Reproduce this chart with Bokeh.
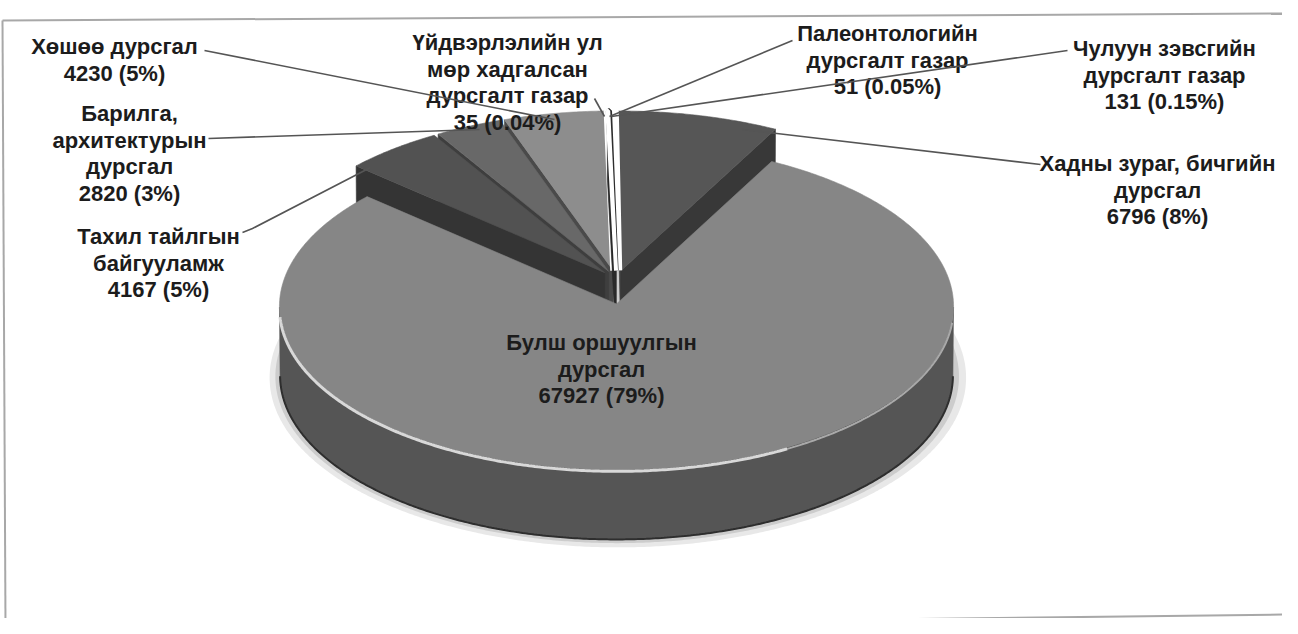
import numpy as np
from bokeh.plotting import figure
from bokeh.models import Range1d, ColumnDataSource
from bokeh.embed import file_html
from bokeh.resources import INLINE
from bokeh.core.properties import value

# ---------------- data ----------------
categories = [
    "Үйдвэрлэлийн ул мөр хадгалсан дурсгалт газар",
    "Палеонтологийн дурсгалт газар",
    "Чулуун зэвсгийн дурсгалт газар",
    "Хадны зураг, бичгийн дурсгал",
    "Булш оршуулгын дурсгал",
    "Тахил тайлгын байгууламж",
    "Барилга, архитектурын дурсгал",
    "Хөшөө дурсгал",
]
counts = [35, 51, 131, 6796, 67927, 4167, 2820, 4230]
percent_text = ["0.04%", "0.05%", "0.15%", "8%", "79%", "5%", "3%", "5%"]
label_lines = [
    ["Үйдвэрлэлийн ул", "мөр хадгалсан", "дурсгалт газар"],
    ["Палеонтологийн", "дурсгалт газар"],
    ["Чулуун зэвсгийн", "дурсгалт газар"],
    ["Хадны зураг, бичгийн", "дурсгал"],
    ["Булш оршуулгын", "дурсгал"],
    ["Тахил тайлгын", "байгууламж"],
    ["Барилга,", "архитектурын", "дурсгал"],
    ["Хөшөө дурсгал"],
]

# ---------------- layout / style ----------------
CX, CY = 624.0, 287.0          # screen position of pie centre
K, D = 19755.0, 58.75          # perspective scale / camera distance (pie radius = 1)
COS_T, SIN_T = 0.8756, 0.4830  # camera elevation
HEIGHT = 0.235                 # pie thickness
START_DEG = -1.5
BIG_EXPLODE = 0.15
SMALL_EXPLODE = 0.055
top_colors = ["#ffffff", "#2e2e2e", "#ffffff", "#565656", "#868686", "#525252", "#686868", "#8d8d8d"]
wall_colors = ["#2a2a2a", "#262626", "#bdbdbd", "#383838", "#555555", "#343434", "#3e3e3e", "#4a4a4a"]
edge_width = [4.0, 5.0, 12.0, 0.6, 0.6, 0.6, 0.6, 0.6]
draw_rank = [3, 2, 1, 0, 9, 0, 0, 0]   # thin slices painted over their neighbours

label_anchor = [(515, 44), (895, 35), (1172, 50), (1165, 165), (609, 344), (166, 238), (137, 115), (122, 48)]
LINE_STEP = 26.5
TEXT_DY = 6
leader_pts = {
    0: [(602, 106), (612, 124)],
    1: [(800, 48), (617, 124)],
    2: [(1075, 58), (619, 124)],
    3: [(1048, 172), (750, 137)],
    5: [(250, 240), (260, 236), (378, 175)],
    6: [(216, 146), (487, 137)],
    7: [(212, 58), (562, 127)],
}
BIG = int(np.argmax(counts))

p = figure(width=1282, height=618, x_range=Range1d(8, 1290), y_range=Range1d(626, 8),
           output_backend="svg", toolbar_location=None, min_border=0)
p.axis.visible = False
p.grid.visible = False
p.outline_line_color = None
p.background_fill_color = "white"

# frame (scanned border)
p.line([10, 1294], [28, 21], line_color="#a8a8a8", line_width=2)
p.line([10, 13], [28, 634], line_color="#a8a8a8", line_width=2)
p.line([1294, 1296], [21, 553], line_color="#a8a8a8", line_width=2)
p.line([470, 1298], [632, 622], line_color="#a8a8a8", line_width=2)

# ---------------- pie geometry (3-D perspective) ----------------
vals = np.array(counts, dtype=float)
spans = vals / vals.sum() * 360.0
a_start = START_DEG + np.concatenate([[0], np.cumsum(spans)[:-1]])
a_end = a_start + spans
mids = (a_start + a_end) / 2


def proj(X, W, H):
    depth = D + W * COS_T - H * SIN_T
    return CX + K * X / depth, CY - K * (H * COS_T + W * SIN_T) / depth


def offset(i):
    if i == BIG:
        return 0.0, -BIG_EXPLODE
    m = np.radians(mids[i])
    return SMALL_EXPLODE * np.sin(m), SMALL_EXPLODE * np.cos(m)


def rim(a0, a1, ox, ow, H=0.0, r=1.0):
    n = max(2, int(abs(a1 - a0) / 0.5) + 2)
    t = np.radians(np.linspace(a0, a1, n))
    return proj(r * np.sin(t) + ox, r * np.cos(t) + ow, H)


xs, ys, fills, lws = [], [], [], []


def add(px, py, color, lw):
    xs.append(list(px)); ys.append(list(py)); fills.append(color); lws.append(lw)


VIS = np.degrees(np.arccos(-1.0 / (D * COS_T)))
order = sorted(range(len(counts)), key=lambda i: (draw_rank[i], -np.cos(np.radians(mids[i]))))
for i in order:
    ox, ow = offset(i)
    a0, a1 = a_start[i], a_end[i]
    ax, ay = proj(ox, ow, 0.0)
    bx_, by_ = proj(ox, ow, -HEIGHT)
    for ang, vis in ((a0, np.sin(np.radians(a0)) < 0), (a1, np.sin(np.radians(a1)) > 0)):
        if vis and i != BIG:
            tx, ty = rim(ang, ang, ox, ow)
            ux, uy = rim(ang, ang, ox, ow, -HEIGHT)
            add([ax, tx[0], ux[0], bx_], [ay, ty[0], uy[0], by_], wall_colors[i], 0.6)
    b0 = a0 % 360
    b1 = b0 + spans[i]
    for lo, hi in ((VIS, 360 - VIS), (360 + VIS, 720 - VIS)):
        s, e = max(b0, lo), min(b1, hi)
        if e > s:
            tx, ty = rim(s, e, ox, ow)
            ux, uy = rim(e, s, ox, ow, -HEIGHT)
            add(np.concatenate([tx, ux]), np.concatenate([ty, uy]), wall_colors[i], 0.6)
    tx, ty = rim(a0, a1, ox, ow)
    add(np.concatenate([[ax], tx]), np.concatenate([[ay], ty]), top_colors[i], edge_width[i])

# soft shadow under the pie
bo, bw = offset(BIG)
sx, sy = rim(0, 360, bo + 0.004, bw - 0.012, -HEIGHT, 1.035)
p.patch(sx, sy, fill_color="#e8e8e8", line_color=None)
sx, sy = rim(0, 360, bo + 0.002, bw - 0.006, -HEIGHT, 1.016)
p.patch(sx, sy, fill_color="#cccccc", line_color=None)

src = ColumnDataSource(dict(xs=xs, ys=ys, fill=fills, lw=lws))
p.patches("xs", "ys", source=src, fill_color="fill", line_color="fill", line_width="lw")

# rim highlight and bottom edge on the big slice
hx, hy = rim(96, 150, bo, bw, -0.006)
p.line(hx, hy, line_color="#a9a9a9", line_width=2)
hx, hy = rim(150, 266, bo, bw, -0.006)
p.line(hx, hy, line_color="#d8d8d8", line_width=3)
ex, ey = rim(VIS, 360 - VIS, bo, bw, -HEIGHT)
p.line(ex, ey, line_color="#2e2e2e", line_width=2)

# ---------------- labels ----------------
tx_, ty_, tt_ = [], [], []
for i, lines in enumerate(label_lines):
    full = lines + [f"{counts[i]} ({percent_text[i]})"]
    x0, y0 = label_anchor[i]
    for k, s in enumerate(full):
        tx_.append(x0); ty_.append(y0 + TEXT_DY + k * LINE_STEP); tt_.append(s)

p.text(x=tx_, y=ty_, text=tt_, text_align="center", text_baseline="middle",
       text_font=value("Liberation Sans"), text_font_style="bold", text_font_size="22px",
       text_color="#1c1c1c")

lx = [[pt[0] for pt in v] for v in leader_pts.values()]
ly = [[pt[1] for pt in v] for v in leader_pts.values()]
p.multi_line(lx, ly, line_color="#555555", line_width=1.6)

open("out.html", "w").write(file_html(p, INLINE))
